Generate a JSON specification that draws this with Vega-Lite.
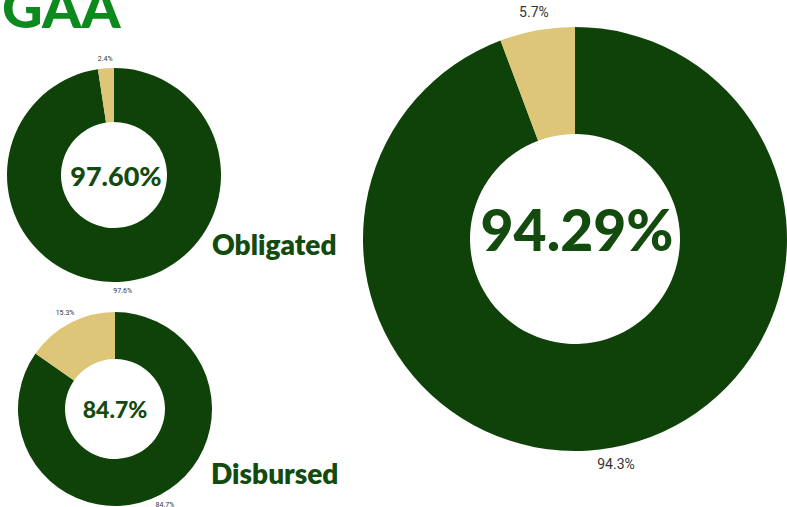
{
  "$schema": "https://vega.github.io/schema/vega-lite/v6.json",
  "padding": 0,
  "spacing": 24,
  "config": {"view": {"stroke": null}},
  "datasets": {
    "obl": [
      {"part": "Accomplished", "value": 0.976},
      {"part": "Remaining", "value": 0.024}
    ],
    "dis": [
      {"part": "Accomplished", "value": 0.847},
      {"part": "Remaining", "value": 0.153}
    ],
    "tot": [
      {"part": "Accomplished", "value": 0.9429},
      {"part": "Remaining", "value": 0.0571}
    ]
  },
  "hconcat": [
    {
      "spacing": 14,
      "vconcat": [
        {
          "width": 228,
          "height": 41,
          "data": {"values": [{"label": "GAA"}]},
          "mark": {"type": "text", "clip": true, "font": "Lato", "fontWeight": 900, "fontSize": 56, "color": "#0C8A1E", "align": "left", "baseline": "alphabetic", "dx": -112, "dy": 7.5},
          "encoding": {"text": {"field": "label", "type": "nominal"}}
        },
        {
          "width": 228,
          "height": 240,
          "data": {"name": "obl"},
          "layer": [
            {
              "mark": {"type": "arc", "outerRadius": 107, "innerRadius": 53},
              "encoding": {
                "theta": {"field": "value", "type": "quantitative", "stack": true},
                "order": {"field": "part", "type": "ordinal"},
                "color": {"field": "part", "type": "nominal", "scale": {"domain": ["Accomplished", "Remaining"], "range": ["#0E4209", "#DDC677"]}, "legend": null}
              }
            },
            {
              "mark": {"type": "text", "radius": 116, "fontSize": 7, "color": "#333333", "font": "Roboto"},
              "encoding": {
                "theta": {"field": "value", "type": "quantitative", "stack": true},
                "order": {"field": "part", "type": "ordinal"},
                "text": {"field": "value", "type": "quantitative", "format": ".1%"}
              }
            },
            {
              "transform": [{"filter": "datum.part == 'Accomplished'"}],
              "mark": {"type": "text", "font": "Lato", "fontWeight": 900, "fontSize": 27, "color": "#134A0D", "baseline": "alphabetic", "dy": 11, "dx": 2},
              "encoding": {"text": {"field": "value", "type": "quantitative", "format": ".2%"}}
            },
            {
              "data": {"values": [{"label": "Obligated"}]},
              "mark": {"type": "text", "font": "Lato", "fontWeight": 800, "fontSize": 28, "color": "#134A0D", "align": "left", "baseline": "alphabetic", "dx": 98, "dy": 80},
              "encoding": {"text": {"field": "label", "type": "nominal"}}
            }
          ]
        },
        {
          "width": 230,
          "height": 198,
          "data": {"name": "dis"},
          "layer": [
            {
              "mark": {"type": "arc", "outerRadius": 97, "innerRadius": 50},
              "encoding": {
                "theta": {"field": "value", "type": "quantitative", "stack": true},
                "order": {"field": "part", "type": "ordinal"},
                "color": {"field": "part", "type": "nominal", "scale": {"domain": ["Accomplished", "Remaining"], "range": ["#0E4209", "#DDC677"]}, "legend": null}
              }
            },
            {
              "mark": {"type": "text", "radius": 108, "fontSize": 7, "color": "#333333", "font": "Roboto"},
              "encoding": {
                "theta": {"field": "value", "type": "quantitative", "stack": true},
                "order": {"field": "part", "type": "ordinal"},
                "text": {"field": "value", "type": "quantitative", "format": ".1%"}
              }
            },
            {
              "transform": [{"filter": "datum.part == 'Accomplished'"}],
              "mark": {"type": "text", "font": "Lato", "fontWeight": 900, "fontSize": 23, "color": "#134A0D", "baseline": "alphabetic", "dy": 9},
              "encoding": {"text": {"field": "value", "type": "quantitative", "format": ".1%"}}
            },
            {
              "data": {"values": [{"label": "Disbursed"}]},
              "mark": {"type": "text", "font": "Lato", "fontWeight": 800, "fontSize": 28, "color": "#134A0D", "align": "left", "baseline": "alphabetic", "dx": 96, "dy": 75},
              "encoding": {"text": {"field": "label", "type": "nominal"}}
            }
          ]
        }
      ]
    },
    {
      "width": 424,
      "height": 478,
      "data": {"name": "tot"},
      "layer": [
        {
          "mark": {"type": "arc", "outerRadius": 212, "innerRadius": 105},
          "encoding": {
            "theta": {"field": "value", "type": "quantitative", "stack": true},
            "order": {"field": "part", "type": "ordinal"},
            "color": {"field": "part", "type": "nominal", "scale": {"domain": ["Accomplished", "Remaining"], "range": ["#0E4209", "#DDC677"]}, "legend": null}
          }
        },
        {
          "mark": {"type": "text", "radius": 230, "fontSize": 14, "color": "#333333", "font": "Roboto"},
          "encoding": {
            "theta": {"field": "value", "type": "quantitative", "stack": true},
            "order": {"field": "part", "type": "ordinal"},
            "text": {"field": "value", "type": "quantitative", "format": ".1%"}
          }
        },
        {
          "transform": [{"filter": "datum.part == 'Accomplished'"}],
          "mark": {"type": "text", "font": "Lato", "fontWeight": 900, "fontSize": 57, "color": "#134A0D", "baseline": "alphabetic", "dy": 12, "dx": 2},
          "encoding": {"text": {"field": "value", "type": "quantitative", "format": ".2%"}}
        }
      ]
    }
  ]
}
